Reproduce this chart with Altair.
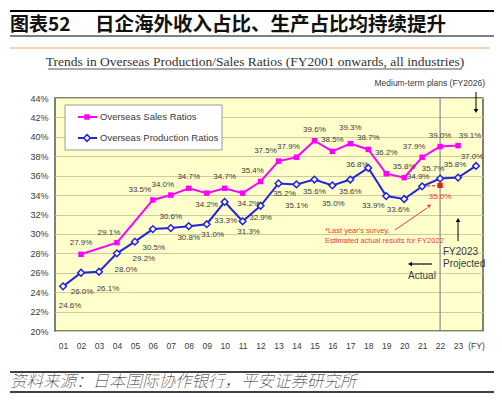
import altair as alt
import pandas as pd

# ---------------- data ----------------
# positions 1..23 = FY2001..FY2023, position 24 = medium-term plan (FY2026)
year_labels = ["01", "02", "03", "04", "05", "06", "07", "08", "09", "10", "11", "12",
               "13", "14", "15", "16", "17", "18", "19", "20", "21", "22", "23", "(FY)"]
prod_pos = list(range(1, 25))
prod_values = [24.6, 26.0, 26.1, 28.0, 29.2, 30.5, 30.6, 30.8, 31.0, 33.3, 31.3, 32.9,
               35.2, 35.1, 35.6, 35.0, 35.6, 36.8, 33.9, 33.6, 34.9, 35.7, 35.8, 37.0]
prod_place = ["SE2", "SS", "SE", "SE", "SE", "SS", "N", "S", "SE1", "SS", "SE1", "S",
              "SE1", "SSS", "S", "SS", "S", "W", "SW", "SW1", "NW1", "NW2", "NW3", "NW1"]
sales_pos = [2, 4, 6, 7, 8, 9, 10, 11, 12, 13, 14, 15, 16, 17, 18, 19, 20, 21, 22, 23]
sales_values = [27.9, 29.1, 33.5, 34.0, 34.7, 34.2, 34.7, 34.2, 35.4, 37.5, 37.9,
                39.6, 38.5, 39.3, 38.7, 36.2, 35.8, 37.9, 39.0, 39.1]
sales_place = ["N", "NW", "NWW", "NW", "N", "S", "N", "SE1", "NW", "NWW", "NW",
               "N", "N", "N2", "N", "NN", "N", "NW", "N", "NE"]
est_pos = [21, 22]          # last year's survey estimate for FY2022
est_values = [34.9, 35.0]
split_pos = [22]            # actual / projected boundary
projected_pos = [23]        # FY2023 projected arrow
plan_pos = [24]             # medium-term plan arrow
y_ticks = list(range(20, 45, 2))

# ---------------- styles ----------------
PINK = "#FF00FF"
BLUE = "#2424DC"
RED = "#F03A3A"
TXT = "#3a3a3a"
SANS = "Liberation Sans"
# label placement codes -> pixel offsets (dx, dy)
OFF = {"N": (0, -11), "N2": (0, -16), "NN": (0, -21), "NE": (12, -10),
       "NW": (-8, -10), "NWW": (-13, -10), "NW1": (-4, -9), "NW2": (-7, -10), "NW3": (-3, -13),
       "S": (0, 12), "SS": (1, 19), "SSS": (0, 22), "SE": (9, 17), "SE1": (6, 11),
       "SE2": (7, 20), "SW": (-13, 10), "SW1": (-6, 11), "W": (-11, -3)}

prod_df = pd.DataFrame({"pos": prod_pos, "value": prod_values, "place": prod_place})
sales_df = pd.DataFrame({"pos": sales_pos, "value": sales_values, "place": sales_place})
est_df = pd.DataFrame({"pos": est_pos, "value": est_values})
lab_df = pd.concat([prod_df, sales_df], ignore_index=True)
one = pd.DataFrame({"k": [0]})

label_expr = "[" + ",".join("'%s'" % s for s in year_labels) + "][datum.value - 1]"
X = alt.X("pos:Q", scale=alt.Scale(domain=[0.55, 24.39], nice=False, zero=False),
          axis=alt.Axis(values=list(range(1, 25)), labelExpr=label_expr, title=None,
                        grid=False, ticks=False, domain=False, labelPadding=10,
                        labelOverlap=False, labelFontSize=8.5, labelColor=TXT, labelFont=SANS))
Y = alt.Y("value:Q", scale=alt.Scale(domain=[20, 44], nice=False, zero=False),
          axis=alt.Axis(values=y_ticks, labelExpr="datum.value + '%'", title=None,
                        ticks=False, domain=False, grid=True, gridColor="#CDCD9C",
                        gridWidth=1, labelPadding=7, labelFontSize=9, labelOverlap=False,
                        labelColor=TXT, labelFont=SANS))


def text_at(txt, x, y, **kw):
    return alt.Chart(one).mark_text(**kw).encode(
        x=alt.value(x), y=alt.value(y), text=alt.value(txt))


def hline(x1, x2, y, color="black", width=1.0):
    return alt.Chart(one).mark_rule(color=color, strokeWidth=width).encode(
        x=alt.value(x1), x2=alt.value(x2), y=alt.value(y))


def hbar(x1, x2, y1, y2, color="black"):
    return alt.Chart(one).mark_rect(color=color, opacity=1).encode(
        x=alt.value(x1), x2=alt.value(x2), y=alt.value(y1), y2=alt.value(y2))


layers = []

# split line at FY2022
layers.append(alt.Chart(pd.DataFrame({"pos": split_pos}))
              .mark_rule(color="#8a8a8a", strokeWidth=1.2).encode(x=X))

# legend box
layers.append(alt.Chart(one).mark_rect(fill="white", stroke="#9a9a9a", strokeWidth=1).encode(
    x=alt.value(10), x2=alt.value(167), y=alt.value(7), y2=alt.value(52)))
layers.append(hline(23, 42, 19, PINK, 2))
layers.append(hline(23, 42, 40, BLUE, 2))
layers.append(alt.Chart(one).mark_point(shape="square", filled=True, color=PINK, size=30, opacity=1)
              .encode(x=alt.value(32), y=alt.value(19)))
layers.append(alt.Chart(one).mark_point(shape="diamond", filled=True, fill="white", stroke=BLUE,
                                        strokeWidth=1.5, size=45, opacity=1)
              .encode(x=alt.value(32), y=alt.value(40)))
layers.append(text_at("Overseas Sales Ratios", 45, 19, align="left", baseline="middle",
                      fontSize=9.5, font=SANS, color=TXT))
layers.append(text_at("Overseas Production Ratios", 45, 40, align="left", baseline="middle",
                      fontSize=9.5, font=SANS, color=TXT))

# series
layers.append(alt.Chart(est_df).mark_line(color=RED, strokeWidth=1.2, strokeDash=[3, 2])
              .encode(x=X, y=Y))
layers.append(alt.Chart(sales_df).mark_line(color=PINK, strokeWidth=2).encode(x=X, y=Y))
layers.append(alt.Chart(prod_df).mark_line(color=BLUE, strokeWidth=2).encode(x=X, y=Y))
layers.append(alt.Chart(sales_df).mark_point(shape="square", filled=True, color=PINK, size=30,
                                             opacity=1).encode(x=X, y=Y))
layers.append(alt.Chart(prod_df).mark_point(shape="diamond", filled=True, fill="white", stroke=BLUE,
                                            strokeWidth=1.5, size=45, opacity=1).encode(x=X, y=Y))
layers.append(alt.Chart(est_df).transform_filter(alt.datum.pos == 22)
              .mark_point(shape="square", filled=True, color="#E02020", size=28, opacity=1)
              .encode(x=X, y=Y))

# data labels
for code, (dx, dy) in OFF.items():
    layers.append(alt.Chart(lab_df).transform_filter(alt.datum.place == code)
                  .transform_calculate(label="format(datum.value, '.1f') + '%'")
                  .mark_text(dx=dx, dy=dy, fontSize=8, font=SANS, color=TXT, baseline="middle")
                  .encode(x=X, y=Y, text="label:N"))
layers.append(alt.Chart(est_df).transform_filter(alt.datum.pos == 22)
              .transform_calculate(label="format(datum.value, '.1f') + '%'")
              .mark_text(dy=12, fontSize=8, font=SANS, color=RED, baseline="middle")
              .encode(x=X, y=Y, text="label:N"))

# annotations inside plot
layers.append(text_at("*Last year's survey.", 270, 133, align="left", baseline="middle",
                      fontSize=7.5, font=SANS, color=RED))
layers.append(text_at("Estimated actual results for FY2022", 270, 143, align="left",
                      baseline="middle", fontSize=7.5, font=SANS, color=RED))
layers.append(alt.Chart(one).mark_rule(color=RED, strokeWidth=1).encode(
    x=alt.value(340), x2=alt.value(372), y=alt.value(132), y2=alt.value(110)))
layers.append(alt.Chart(one).mark_point(shape="triangle", filled=True, color=RED, size=18,
                                        angle=55, opacity=1)
              .encode(x=alt.value(374), y=alt.value(108)))

proj = pd.DataFrame({"pos": projected_pos})
layers.append(alt.Chart(proj).mark_rule(color="black", strokeWidth=1).encode(
    x=X, y=alt.value(124), y2=alt.value(143)))
layers.append(alt.Chart(proj).mark_point(shape="triangle-up", filled=True, color="black", size=22,
                                         opacity=1).encode(x=X, y=alt.value(122)))
layers.append(text_at("FY2023", 388, 154, align="left", baseline="middle",
                      fontSize=10, font=SANS, color=TXT))
layers.append(text_at("Projected", 388, 166, align="left", baseline="middle",
                      fontSize=10, font=SANS, color=TXT))
layers.append(hline(357, 377, 166, "black", 1.2))
layers.append(alt.Chart(one).mark_point(shape="triangle-left", filled=True, color="black", size=22,
                                        opacity=1).encode(x=alt.value(355), y=alt.value(166)))
layers.append(text_at("Actual", 367, 178, align="center", baseline="middle",
                      fontSize=10, font=SANS, color=TXT))

# medium-term plan arrow
plan = pd.DataFrame({"pos": plan_pos})
layers.append(alt.Chart(plan).mark_rule(color="black", strokeWidth=1).encode(
    x=X, y=alt.value(-6), y2=alt.value(11)))
layers.append(alt.Chart(plan).mark_point(shape="triangle-down", filled=True, color="black", size=22,
                                         opacity=1).encode(x=X, y=alt.value(13)))
layers.append(text_at("Medium-term plans (FY2026)", 430, -15, align="right", baseline="middle",
                      fontSize=8.5, font=SANS, color=TXT))

# titles and source (outside the plot)
layers.append(hbar(-45, 439, -88, -86, "black"))
layers.append(text_at("图表52", -45, -73, align="left", baseline="middle", fontSize=19,
                      fontWeight="bold", font="Noto Sans CJK SC", color="#111"))
layers.append(text_at("日企海外收入占比、生产占比均持续提升", 40, -73, align="left",
                      baseline="middle", fontSize=19.5, fontWeight="bold",
                      font="Noto Sans CJK SC", color="#111"))
layers.append(hline(-45, 439, -62, "black", 1))
layers.append(hline(-45, 435, -50, "#F6D3AE", 2))
layers.append(text_at("Trends in Overseas Production/Sales Ratios (FY2001 onwards, all industries)",
                      200, -36, align="center", baseline="middle", fontSize=13.5,
                      font="Liberation Serif", color="#333"))
layers.append(hline(-7, 407, -29, "#555", 1))
layers.append(hline(-45, 439, 274, "black", 1.5))
layers.append(text_at("资料来源：日本国际协作银行，平安证券研究所", -45, 284, align="left",
                      baseline="middle", fontSize=16.5, fontStyle="italic",
                      font="Noto Sans CJK SC", fontWeight="lighter", color="#222"))
layers.append(hline(-45, 439, 294, "black", 1.5))

chart = (alt.layer(*layers)
         .properties(width=428, height=233,
                     autosize=alt.AutoSizeParams(type="none"),
                     padding={"left": 47, "top": 90, "right": 11, "bottom": 62})
         .configure_view(fill="#FFFFCC", stroke="#555555", strokeWidth=1.5))

chart.save("out.html", embed_options={"renderer": "svg", "actions": False})
